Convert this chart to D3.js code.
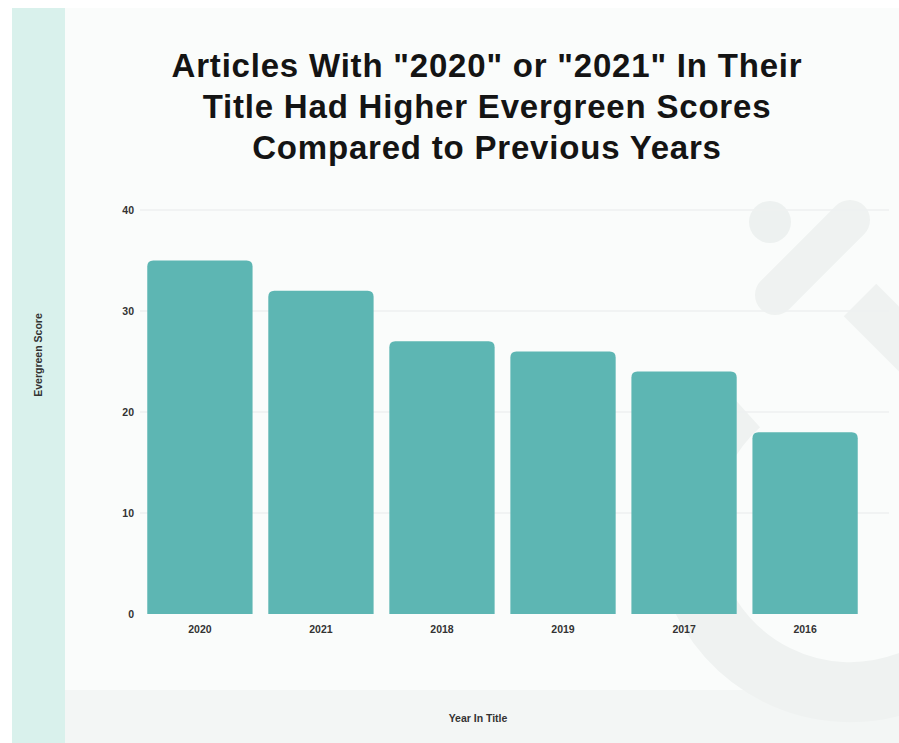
<!DOCTYPE html>
<html>
<head>
<meta charset="utf-8">
<script src="https://cdn.jsdelivr.net/npm/d3@7.9.0/dist/d3.min.js"></script>
<style>
  body { margin: 0; background: #ffffff; }
  svg { display: block; font-family: "Liberation Sans", Arial, sans-serif; }
</style>
</head>
<body>
<svg id="chart" width="899" height="743"></svg>
<script>
const years = ['2020', '2021', '2018', '2019', '2017', '2016'];
const scores = [35, 32, 27, 26, 24, 18];
const yTicks = [0, 10, 20, 30, 40];
const titleLines = [
  'Articles With "2020" or "2021" In Their',
  'Title Had Higher Evergreen Scores',
  'Compared to Previous Years'
];

const svg = d3.select('#chart');
const width = 899, height = 743;

// backgrounds
svg.append('rect').attr('x', 65).attr('y', 8).attr('width', width - 65).attr('height', height - 8).attr('fill', '#fafcfb');
svg.append('rect').attr('x', 65).attr('y', 690).attr('width', width - 65).attr('height', height - 690).attr('fill', '#f3f6f5');
svg.append('rect').attr('x', 12).attr('y', 8).attr('width', 53).attr('height', height - 8).attr('fill', '#d9f1ec');

// faint watermark
const wm = svg.append('g').attr('fill', 'none').attr('stroke', '#eff2f1');
wm.append('circle').attr('cx', 770).attr('cy', 222).attr('r', 21).attr('fill', '#edf1f0').attr('stroke', 'none');
wm.append('line').attr('x1', 850).attr('y1', 220).attr('x2', 775).attr('y2', 295).attr('stroke-width', 40).attr('stroke-linecap', 'round');
wm.append('path').attr('d', 'M860,300 L960,400').attr('stroke-width', 46);
wm.append('path').attr('d', 'M740,405 A150,150 0 1,0 960,650').attr('stroke-width', 60);

const margin = { left: 140, right: 34, top: 210, bottom: 129 };

const x = d3.scaleBand()
  .domain(years)
  .range([margin.left, width - margin.right])
  .paddingInner(0.13)
  .paddingOuter(0.06);

const y = d3.scaleLinear()
  .domain([0, 40])
  .range([height - margin.bottom, margin.top]);

// grid
svg.append('g')
  .selectAll('line')
  .data(yTicks.slice(1))
  .join('line')
  .attr('x1', margin.left)
  .attr('x2', width - 10)
  .attr('y1', d => y(d))
  .attr('y2', d => y(d))
  .attr('stroke', '#eef1f0')
  .attr('stroke-width', 1.5);

// bars with rounded tops
const r = 6;
svg.append('g')
  .selectAll('path')
  .data(years.map((yr, i) => ({ yr, v: scores[i] })))
  .join('path')
  .attr('fill', '#5db6b3')
  .attr('d', d => {
    const x0 = x(d.yr), w = x.bandwidth(), y0 = y(d.v), y1 = y(0);
    return `M${x0},${y1}V${y0 + r}Q${x0},${y0} ${x0 + r},${y0}H${x0 + w - r}Q${x0 + w},${y0} ${x0 + w},${y0 + r}V${y1}Z`;
  });

// y axis
const yAxis = svg.append('g')
  .attr('transform', `translate(${margin.left - 6},0)`)
  .call(d3.axisLeft(y).tickValues(yTicks).tickSize(0).tickPadding(0));
yAxis.select('.domain').remove();
yAxis.selectAll('text')
  .attr('font-size', 10.5).attr('font-weight', 'bold').attr('fill', '#333')
  .attr('font-family', '"Liberation Sans", Arial, sans-serif');

// x axis
const xAxis = svg.append('g')
  .attr('transform', `translate(0,${y(0)})`)
  .call(d3.axisBottom(x).tickSize(0).tickPadding(12));
xAxis.select('.domain').remove();
xAxis.selectAll('text')
  .attr('font-size', 10.5).attr('font-weight', 'bold').attr('fill', '#333')
  .attr('font-family', '"Liberation Sans", Arial, sans-serif');

// title
svg.append('text')
  .attr('text-anchor', 'middle')
  .attr('font-size', 33)
  .attr('font-weight', 'bold')
  .attr('letter-spacing', 0.8)
  .attr('fill', '#141414')
  .selectAll('tspan')
  .data(titleLines)
  .join('tspan')
  .attr('x', 487)
  .attr('y', (d, i) => 77 + i * 41)
  .text(d => d);

// axis labels
svg.append('text')
  .attr('transform', 'translate(42,355) rotate(-90)')
  .attr('text-anchor', 'middle')
  .attr('font-size', 10.5).attr('font-weight', 'bold').attr('fill', '#333')
  .text('Evergreen Score');

svg.append('text')
  .attr('x', 478).attr('y', 722)
  .attr('text-anchor', 'middle')
  .attr('font-size', 10.5).attr('font-weight', 'bold').attr('fill', '#333')
  .text('Year In Title');
</script>
</body>
</html>
